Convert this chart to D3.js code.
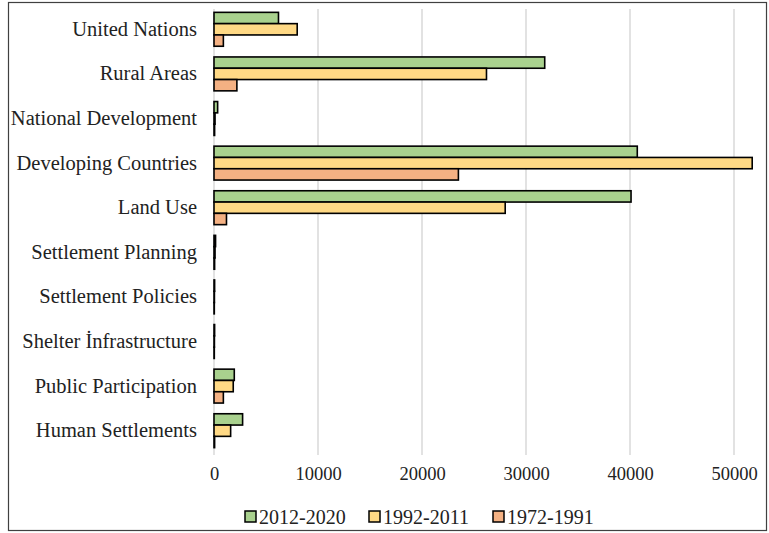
<!DOCTYPE html>
<html>
<head>
<meta charset="utf-8">
<script src="https://cdn.jsdelivr.net/npm/d3@7"></script>
<style>
  html, body { margin: 0; padding: 0; background: #fff; }
  svg { display: block; }
  svg text { font-family: "Liberation Serif", "Times New Roman", "DejaVu Serif", serif; fill: #222; }
</style>
</head>
<body>
<svg id="chart" width="769" height="533"></svg>
<script>
const categories = ["United Nations", "Rural Areas", "National Development", "Developing Countries", "Land Use",
  "Settlement Planning", "Settlement Policies", "Shelter İnfrastructure", "Public Participation", "Human Settlements"];
const seriesNames = ["2012-2020", "1992-2011", "1972-1991"];
const values2012_2020 = [6200, 31800, 350, 40700, 40100, 150, 60, 60, 1950, 2750];
const values1992_2011 = [8000, 26200, 100, 51750, 28000, 100, 40, 40, 1850, 1600];
const values1972_1991 = [900, 2200, 60, 23500, 1200, 60, 30, 30, 900, 60];
const xTicks = [0, 10000, 20000, 30000, 40000, 50000];
const colors = ["#a9d18e", "#ffd985", "#f4b183"];

const seriesValues = [values2012_2020, values1992_2011, values1972_1991];
const svg = d3.select("#chart");

// outer frame
svg.append("rect").attr("x", 8.5).attr("y", 2.5).attr("width", 758).attr("height", 528)
  .attr("fill", "none").attr("stroke", "#404040").attr("stroke-width", 1.2);

const x = d3.scaleLinear().domain([0, 50000]).range([214, 734]);
const y = d3.scaleBand().domain(categories).range([7, 453]).paddingInner(0.24).paddingOuter(0.12);
const ys = d3.scaleBand().domain(seriesNames).range([0, y.bandwidth()]);

// gridlines
svg.append("g").selectAll("line").data(xTicks).join("line")
  .attr("x1", d => x(d)).attr("x2", d => x(d))
  .attr("y1", 9).attr("y2", 455)
  .attr("stroke", "#d9d9d9").attr("stroke-width", 1.5);

// bars
const rows = [];
categories.forEach((c, i) => seriesNames.forEach((s, j) => rows.push({c, s, j, v: seriesValues[j][i]})));
svg.append("g").selectAll("rect").data(rows).join("rect")
  .attr("x", x(0))
  .attr("y", d => y(d.c) + ys(d.s))
  .attr("width", d => x(d.v) - x(0))
  .attr("height", ys.bandwidth())
  .attr("fill", d => colors[d.j])
  .attr("stroke", "#000").attr("stroke-width", 1.6);

// x axis labels
const xAxis = d3.axisBottom(x).tickValues(xTicks).tickSize(0).tickPadding(0).tickFormat(d3.format("d"));
const gx = svg.append("g").attr("transform", "translate(0,467)").call(xAxis);
gx.attr("font-family", null);
gx.select(".domain").remove();
gx.selectAll("text").style("font-size", "18.5px");

// y axis labels
const yAxis = d3.axisLeft(y).tickSize(0).tickPadding(17);
const gy = svg.append("g").attr("transform", `translate(${x(0)},0)`).call(yAxis);
gy.attr("font-family", null);
gy.select(".domain").remove();
gy.selectAll("text").style("font-size", "20.5px");

// legend
const legendX = [245, 369, 493];
const lg = svg.append("g").selectAll("g").data(seriesNames).join("g")
  .attr("transform", (d, i) => `translate(${legendX[i]},511)`);
lg.append("rect").attr("width", 11).attr("height", 11)
  .attr("fill", (d, i) => colors[i]).attr("stroke", "#000").attr("stroke-width", 1.5);
lg.append("text").attr("x", 14).attr("y", 12.5).text(d => d).style("font-size", "20px");
</script>
</body>
</html>
